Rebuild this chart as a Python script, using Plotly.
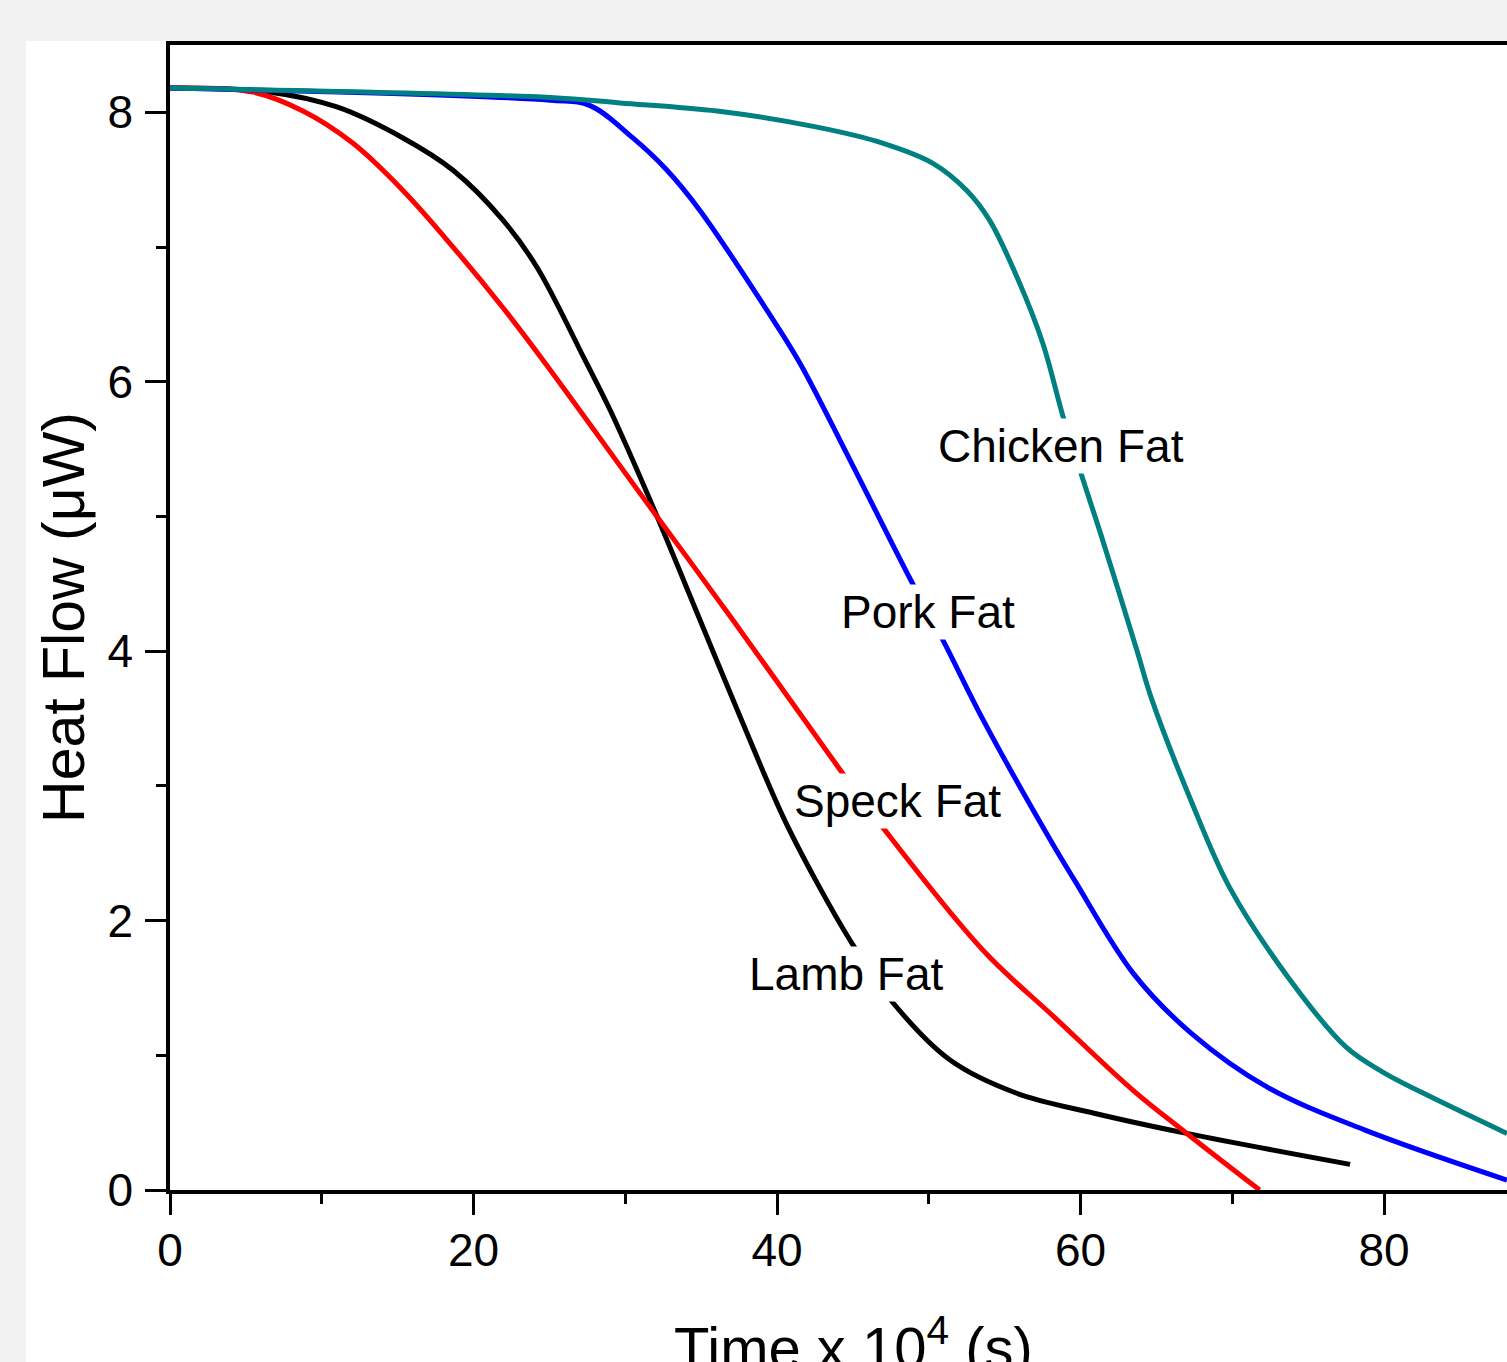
import plotly.graph_objects as go

# ---- data (Time x 10^4 s, Heat Flow µW) ----
lamb_x = [0, 6.6, 11.0, 15.35, 18.65, 21.94, 24.18, 27.35, 29.0, 31.83, 34.93, 37.1, 40.4, 42.64, 45.0,
          47.64, 51.4, 55.75, 60.9, 67.0, 77.76]
lamb_y = [8.18, 8.15, 8.04, 7.81, 7.57, 7.20, 6.85, 6.16, 5.79, 5.07, 4.23, 3.64, 2.77, 2.28, 1.82,
          1.39, 0.965, 0.72, 0.57, 0.42, 0.19]

speck_x = [0, 5.47, 8.76, 12.06, 15.35, 18.65, 21.94, 24.58, 31.63, 37.1, 44.15, 46.98, 53.57,
           58.3, 63.46, 67.0, 71.8]
speck_y = [8.18, 8.15, 8.01, 7.77, 7.42, 7.00, 6.55, 6.16, 5.07, 4.23, 3.12, 2.69, 1.78,
           1.28, 0.74, 0.42, 0.0]

pork_x = [0, 25.04, 27.68, 30.5, 32.75, 34.93, 39.34, 41.5, 44.8, 48.8, 50.94, 53.58, 58.0,
          59.6, 63.46, 67.28, 72.36, 78.75, 88.1]
pork_y = [8.18, 8.09, 8.05, 7.81, 7.57, 7.27, 6.53, 6.14, 5.42, 4.53, 4.08, 3.49, 2.60,
          2.30, 1.61, 1.165, 0.76, 0.445, 0.074]

chicken_x = [0, 25.04, 29.65, 36.05, 42.64, 47.0, 50.3, 52.5, 54.0, 55.8, 57.5, 58.85, 60.0, 61.3,
             63.7, 64.7, 67.28, 69.8, 73.67, 77.5, 80.0, 82.57, 88.1]
chicken_y = [8.18, 8.11, 8.07, 8.01, 7.89, 7.77, 7.62, 7.42, 7.20, 6.78, 6.29, 5.74, 5.33, 4.88,
             4.01, 3.64, 2.89, 2.25, 1.58, 1.06, 0.87, 0.72, 0.42]

labels = ["Lamb Fat", "Speck Fat", "Pork Fat", "Chicken Fat"]
label_x = [44.55, 47.97, 49.95, 58.7]
label_y = [1.60, 2.89, 4.29, 5.52]

x_title = "Time x 10<sup>4</sup> (s)"
y_title = "Heat Flow (μW)"

series = [
    (lamb_x, lamb_y, "#000000"),
    (speck_x, speck_y, "#ff0000"),
    (pork_x, pork_y, "#0000ff"),
    (chicken_x, chicken_y, "#008080"),
]

FONT = "Liberation Sans, Arial, sans-serif"

fig = go.Figure()
for (xs, ys, col), name in zip(series, labels):
    fig.add_trace(go.Scatter(x=xs, y=ys, mode="lines", name=name,
                             line=dict(color=col, width=5, shape="spline", smoothing=1.0)))

for t, x, y in zip(labels, label_x, label_y):
    fig.add_annotation(x=x, y=y, text=t, showarrow=False, bgcolor="white",
                       font=dict(family=FONT, size=46, color="black"))

# x-axis title (drawn as annotation so it may run past the bottom edge like the reference)
fig.add_annotation(xref="paper", yref="paper", x=0.511, y=-0.1, xanchor="center", yanchor="top",
                   text=x_title, showarrow=False, font=dict(family=FONT, size=58, color="black"))

# white panel on grey page
fig.add_shape(type="rect", xref="paper", yref="paper", x0=-0.1077, x1=1.2, y0=-0.3, y1=1.0035,
              fillcolor="white", line=dict(width=0), layer="below")

fig.update_layout(
    width=1507, height=1362,
    margin=dict(l=170, r=0, t=45, b=172),
    paper_bgcolor="#f2f2f2", plot_bgcolor="white",
    showlegend=False,
    font=dict(family=FONT, color="black"),
)
fig.update_xaxes(range=[0, 88.1], showgrid=False, zeroline=False, automargin=False,
                 showline=True, linecolor="black", linewidth=3.5, mirror=True,
                 ticks="outside", ticklen=21, tickwidth=3, tickcolor="black", dtick=20, tick0=0,
                 tickfont=dict(size=46), ticklabelstandoff=-4,
                 minor=dict(ticks="outside", ticklen=10, tickwidth=3, tickcolor="black", dtick=10))
fig.update_yaxes(range=[0, 8.5], showgrid=False, zeroline=False, automargin=False,
                 showline=True, linecolor="black", linewidth=3.5,
                 ticks="outside", ticklen=21, tickwidth=3, tickcolor="black", dtick=2, tick0=0,
                 tickfont=dict(size=46), ticklabelstandoff=3,
                 minor=dict(ticks="outside", ticklen=10, tickwidth=3, tickcolor="black", dtick=1),
                 title=dict(text=y_title, font=dict(size=59), standoff=5))

fig.write_html("out.html", config={"displayModeBar": False},
               post_script="document.body.style.margin='0';document.body.style.overflow='hidden';document.body.style.background='#f2f2f2';")
